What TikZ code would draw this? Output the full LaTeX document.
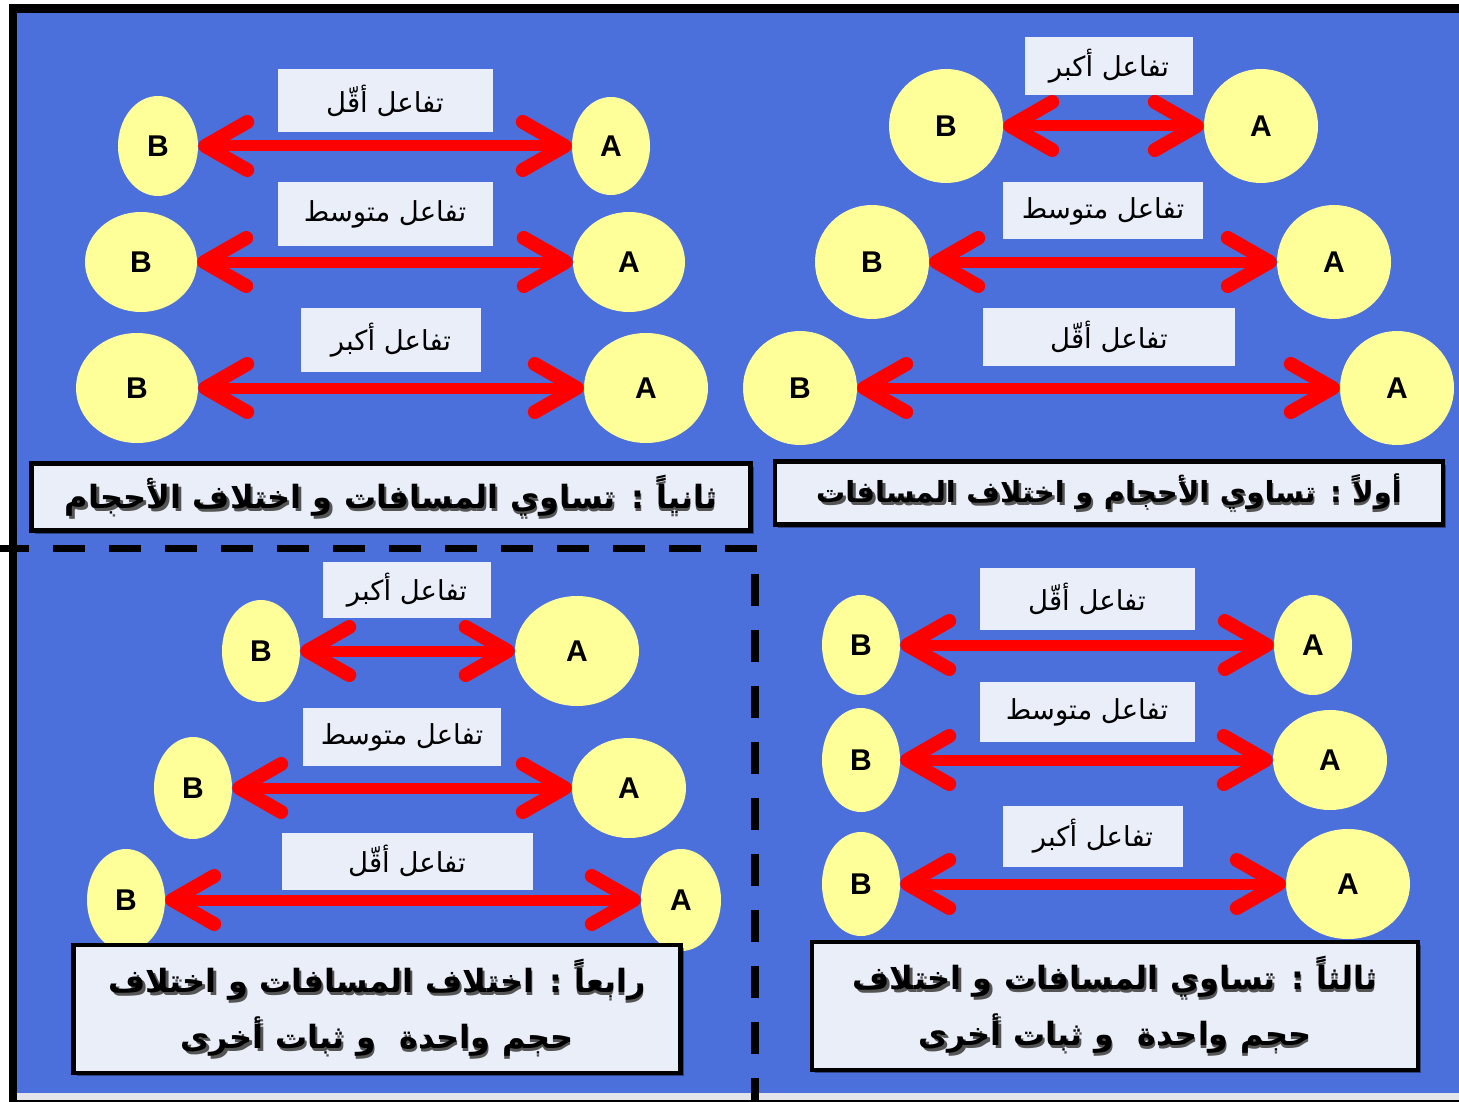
\documentclass[tikz,border=0pt]{standalone}
\usepackage{fontspec}
\setmainfont{Liberation Sans}
\newfontfamily\arabicfont[Script=Arabic]{DejaVu Sans}
\TeXXeTstate=1
\usetikzlibrary{shapes.geometric, arrows.meta, shadows}
\definecolor{bgblue}{HTML}{4C70DB}
\definecolor{ballyellow}{HTML}{FFFF99}
\definecolor{boxfill}{HTML}{E9EEF8}
\definecolor{arrowred}{HTML}{FF0000}
\definecolor{stripgray}{HTML}{E2E4EA}
\definecolor{textshadow}{HTML}{555555}
\tikzset{
  ball/.style 2 args={
    ellipse, fill=ballyellow, inner sep=0pt,
    minimum width=#1pt, minimum height=#2pt,
    font=\fontsize{30}{36}\selectfont\bfseries
  },
  tag/.style 2 args={
    rectangle, fill=boxfill, inner sep=0pt,
    minimum width=#1pt, minimum height=#2pt,
    font=\arabicfont\fontsize{27.5}{32}\selectfont
  },
  titlebox/.style 2 args={
    rectangle, draw=black, line width=4.5pt, fill=boxfill, inner sep=0pt,
    minimum width=#1pt, minimum height=#2pt, align=center,
    font=\arabicfont\bfseries\fontsize{32}{56}\selectfont,
    drop shadow={shadow xshift=3pt, shadow yshift=-3pt, opacity=0.4, fill=black}
  },
  reaction/.style={
    arrowred, line width=11pt,
    {Straight Barb[length=42pt, width=48pt, line width=14pt, round]}-{Straight Barb[length=42pt, width=48pt, line width=14pt, round]}
  },
  divider/.style={black, line width=7pt, dash pattern=on 32pt off 24pt}
}
% heading line with its dark shadow
\newcommand{\txtshadow}[1]{\ooalign{\kern3pt\raisebox{-3pt}{\textcolor{textshadow}{\beginR #1\endR}}\cr\beginR #1\endR\cr}}

\begin{document}
\begin{tikzpicture}[x=1pt, y=-1pt]
\useasboundingbox (0,0) rectangle (1459,1102);

% ── page and frame ───────────────────────────────────────────
\fill[white] (0,0) rectangle (1459,1102);
\fill[bgblue] (16,12) rectangle (1459,1093);
\fill[stripgray] (16,1093) rectangle (1459,1100);
\fill[black] (16,1100) rectangle (1459,1102);
\fill[black] (9,4) rectangle (1459,13);
\fill[black] (9,4) rectangle (17,1102);

% dashed separators
\draw[divider, dash phase=3pt] (0,548) -- (757,548);
\draw[divider, line width=8pt] (755,574) -- (755,1102);

% ── Panel 1 (top right): equal sizes, different distances ─────
\node[ball={114}{114}] (p1b1) at (946,126) {B};
\node[ball={114}{114}] (p1a1) at (1261,126) {A};
\node[ball={114}{114}] (p1b2) at (872,262) {B};
\node[ball={114}{114}] (p1a2) at (1334,262) {A};
\node[ball={114}{114}] (p1b3) at (800,388) {B};
\node[ball={114}{114}] (p1a3) at (1397,388) {A};
\draw[reaction] (p1b1) -- (p1a1);
\draw[reaction] (p1b2) -- (p1a2);
\draw[reaction] (p1b3) -- (p1a3);
\node[tag={168}{58}] (p1t1) at (1109,66) {\beginR تفاعل أكبر\endR};
\node[tag={200}{57}] (p1t2) at (1103,211) {\beginR تفاعل متوسط\endR};
\node[tag={252}{58}] (p1t3) at (1109,337) {\beginR تفاعل أقّل\endR};
\node[titlebox={668}{63}, font=\arabicfont\bfseries\fontsize{29}{40}\selectfont] (p1head) at (1109,493)
  {\txtshadow{أولاً : تساوي الأحجام و اختلاف المسافات}};

% ── Panel 2 (top left): equal distances, different sizes ──────
\node[ball={80}{100}] (p2b1) at (158,146) {B};
\node[ball={78}{98}] (p2a1) at (611,146) {A};
\node[ball={112}{100}] (p2b2) at (141,262) {B};
\node[ball={112}{100}] (p2a2) at (629,262) {A};
\node[ball={122}{110}] (p2b3) at (137,388) {B};
\node[ball={124}{110}] (p2a3) at (646,388) {A};
\draw[reaction] (p2b1) -- (p2a1);
\draw[reaction] (p2b2) -- (p2a2);
\draw[reaction] (p2b3) -- (p2a3);
\node[tag={215}{63}] (p2t1) at (385,101) {\beginR تفاعل أقّل\endR};
\node[tag={215}{63}] (p2t2) at (385,214) {\beginR تفاعل متوسط\endR};
\node[tag={180}{64}] (p2t3) at (391,340) {\beginR تفاعل أكبر\endR};
\node[titlebox={719}{67}] (p2head) at (391,497)
  {\txtshadow{ثانياً : تساوي المسافات و اختلاف الأحجام}};

% ── Panel 3 (bottom right) ────────────────────────────────────
\node[ball={78}{100}] (p3b1) at (861,645) {B};
\node[ball={78}{100}] (p3a1) at (1313,645) {A};
\node[ball={78}{104}] (p3b2) at (861,760) {B};
\node[ball={114}{100}] (p3a2) at (1330,760) {A};
\node[ball={78}{104}] (p3b3) at (861,884) {B};
\node[ball={124}{110}] (p3a3) at (1348,884) {A};
\draw[reaction] (p3b1) -- (p3a1);
\draw[reaction] (p3b2) -- (p3a2);
\draw[reaction] (p3b3) -- (p3a3);
\node[tag={215}{62}] (p3t1) at (1087,599) {\beginR تفاعل أقّل\endR};
\node[tag={215}{60}] (p3t2) at (1087,712) {\beginR تفاعل متوسط\endR};
\node[tag={180}{61}] (p3t3) at (1093,836) {\beginR تفاعل أكبر\endR};
\node[titlebox={606}{128}] (p3head) at (1115,1006)
  {\txtshadow{ثالثاً : تساوي المسافات و اختلاف}\\
   \txtshadow{حجم واحدة\ \ و ثبات أخرى}};

% ── Panel 4 (bottom left) ─────────────────────────────────────
\node[ball={78}{102}] (p4b1) at (261,651) {B};
\node[ball={124}{110}] (p4a1) at (577,651) {A};
\node[ball={78}{102}] (p4b2) at (193,788) {B};
\node[ball={114}{100}] (p4a2) at (629,788) {A};
\node[ball={78}{102}] (p4b3) at (126,900) {B};
\node[ball={80}{102}] (p4a3) at (681,900) {A};
\draw[reaction] (p4b1) -- (p4a1);
\draw[reaction] (p4b2) -- (p4a2);
\draw[reaction] (p4b3) -- (p4a3);
\node[tag={168}{56}] (p4t1) at (407,590) {\beginR تفاعل أكبر\endR};
\node[tag={198}{58}] (p4t2) at (402,737) {\beginR تفاعل متوسط\endR};
\node[tag={251}{57}] (p4t3) at (407,861) {\beginR تفاعل أقّل\endR};
\node[titlebox={607}{128}] (p4head) at (377,1009)
  {\txtshadow{رابعاً : اختلاف المسافات و اختلاف}\\
   \txtshadow{حجم واحدة\ \ و ثبات أخرى}};

\end{tikzpicture}
\end{document}
